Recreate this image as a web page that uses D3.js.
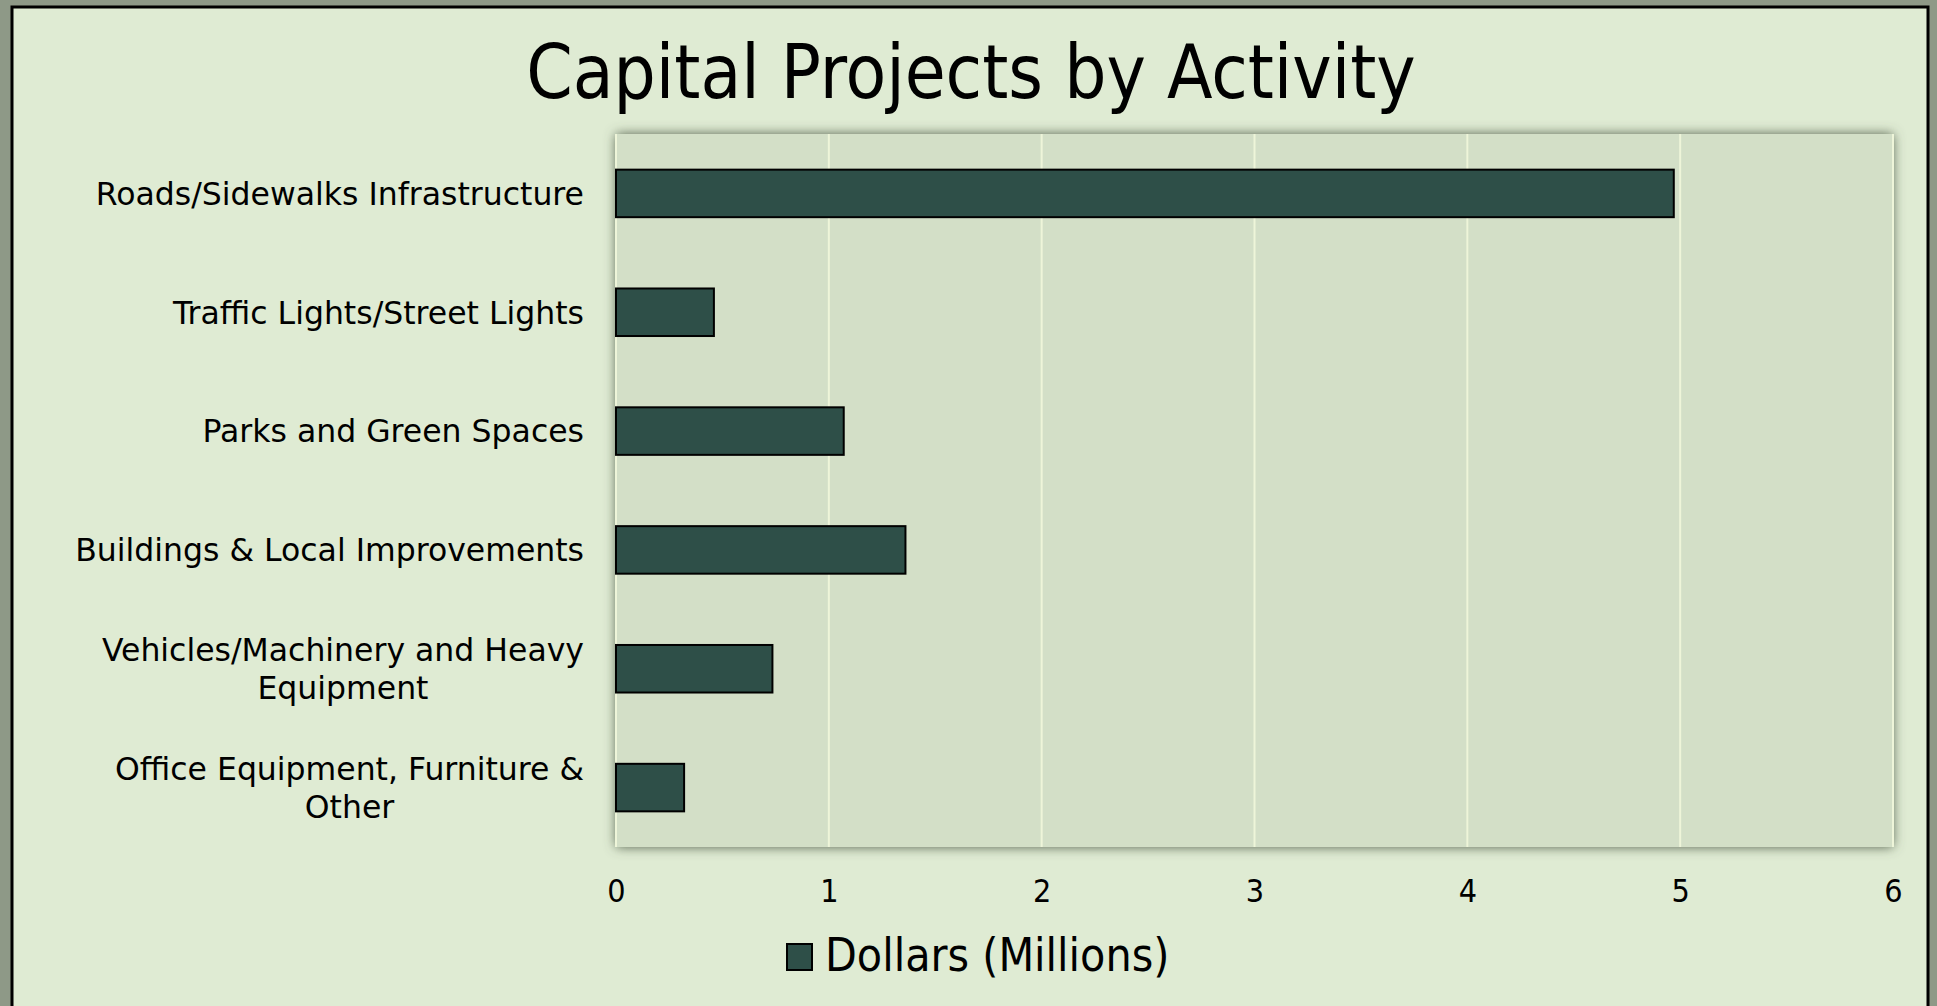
<!DOCTYPE html>
<html>
<head>
<meta charset="utf-8">
<script src="https://cdn.jsdelivr.net/npm/d3@7"></script>
<style>
  body { margin: 0; background: #8e9987; }
  svg { display: block; }
  text { font-family: "DejaVu Sans Condensed", "Liberation Sans Narrow", sans-serif; fill: #000; }
</style>
</head>
<body>
<div id="chart"></div>
<script>
var chartTitle = "Capital Projects by Activity";
var seriesName = "Dollars (Millions)";
var categories = [
  "Roads/Sidewalks Infrastructure",
  "Traffic Lights/Street Lights",
  "Parks and Green Spaces",
  "Buildings & Local Improvements",
  "Vehicles/Machinery and Heavy Equipment",
  "Office Equipment, Furniture & Other"
];
// how the long labels wrap
var labelLines = [
  ["Roads/Sidewalks Infrastructure"],
  ["Traffic Lights/Street Lights"],
  ["Parks and Green Spaces"],
  ["Buildings & Local Improvements"],
  ["Vehicles/Machinery and Heavy", "Equipment"],
  ["Office Equipment, Furniture &", "Other"]
];
var dollars = [4.97, 0.46, 1.07, 1.36, 0.735, 0.32];
var xTicks = [0, 1, 2, 3, 4, 5, 6];

var W = 1937, H = 1006;
var margin = {top: 134, right: 44, bottom: 159, left: 616};
var width = W - margin.left - margin.right, height = H - margin.top - margin.bottom;

var svg = d3.select("#chart").append("svg")
    .attr("width", W)
    .attr("height", H);

var defs = svg.append("defs");
var f = defs.append("filter").attr("id", "shadow")
    .attr("x", "-5%").attr("y", "-5%").attr("width", "110%").attr("height", "110%");
f.append("feDropShadow")
    .attr("dx", 0).attr("dy", 0).attr("stdDeviation", 6)
    .attr("flood-color", "#55624e").attr("flood-opacity", 1);

// outer frame
svg.append("rect")
    .attr("x", 12).attr("y", 7)
    .attr("width", 1916).attr("height", H + 10)
    .attr("fill", "#dfebd3")
    .attr("stroke", "#000")
    .attr("stroke-width", 3);

svg.append("text")
    .attr("x", 971).attr("y", 98)
    .attr("text-anchor", "middle")
    .style("font-size", "74px")
    .text(chartTitle);

var g = svg.append("g")
    .attr("transform", "translate(" + margin.left + "," + margin.top + ")");

var x = d3.scaleLinear().domain([0, 6]).range([0, width]);
var y = d3.scaleBand().domain(categories).range([0, height])
    .paddingInner(0.6).paddingOuter(0.3);

g.append("rect")
    .attr("width", width).attr("height", height)
    .attr("fill", "#d3dfc7")
    .attr("filter", "url(#shadow)");

g.selectAll(".grid").data(xTicks).enter().append("line")
    .attr("class", "grid")
    .attr("x1", function(d){ return x(d); })
    .attr("x2", function(d){ return x(d); })
    .attr("y1", 0).attr("y2", height)
    .attr("stroke", "#eef5d9")
    .attr("stroke-width", 2);

g.selectAll(".bar").data(dollars).enter().append("rect")
    .attr("class", "bar")
    .attr("x", x(0))
    .attr("y", function(d, i){ return y(categories[i]); })
    .attr("width", function(d){ return x(d) - x(0); })
    .attr("height", y.bandwidth())
    .attr("fill", "#2e4f48")
    .attr("stroke", "#000")
    .attr("stroke-width", 2);

// x axis
var xAxis = g.append("g")
    .attr("transform", "translate(0," + height + ")")
    .call(d3.axisBottom(x).tickValues(xTicks).tickFormat(d3.format("d")).tickSize(0).tickPadding(32));
xAxis.select(".domain").remove();
xAxis.selectAll("text")
    .style("font-size", "32px")
    .style("font-family", "'DejaVu Sans Condensed', sans-serif")
    .attr("fill", "#000");

// category labels, wrapped lines centred on each other, block right-aligned
var labelRight = -32, lineH = 38, fs = 31.5;
var labelFont = "'DejaVu Sans', sans-serif";
categories.forEach(function(c, i){
  var cy = y(c) + y.bandwidth() / 2;
  var lines = labelLines[i];
  var wmax = 0;
  lines.forEach(function(l){
    var m = g.append("text").style("font-size", fs + "px").style("font-family", labelFont).text(l);
    wmax = Math.max(wmax, m.node().getComputedTextLength());
    m.remove();
  });
  var cx = labelRight - wmax / 2;
  var y0 = cy - (lines.length - 1) * lineH / 2 + fs * 0.36;
  lines.forEach(function(l, k){
    g.append("text")
      .attr("x", cx).attr("y", y0 + k * lineH)
      .attr("text-anchor", "middle")
      .style("font-size", fs + "px")
      .style("font-family", labelFont)
      .text(l);
  });
});

// legend
var leg = svg.append("g").attr("transform", "translate(787,944)");
leg.append("rect")
    .attr("width", 25).attr("height", 26)
    .attr("fill", "#2e4f48")
    .attr("stroke", "#000").attr("stroke-width", 2);
leg.append("text")
    .attr("x", 38).attr("y", 27)
    .style("font-size", "46px")
    .text(seriesName);
</script>
</body>
</html>
